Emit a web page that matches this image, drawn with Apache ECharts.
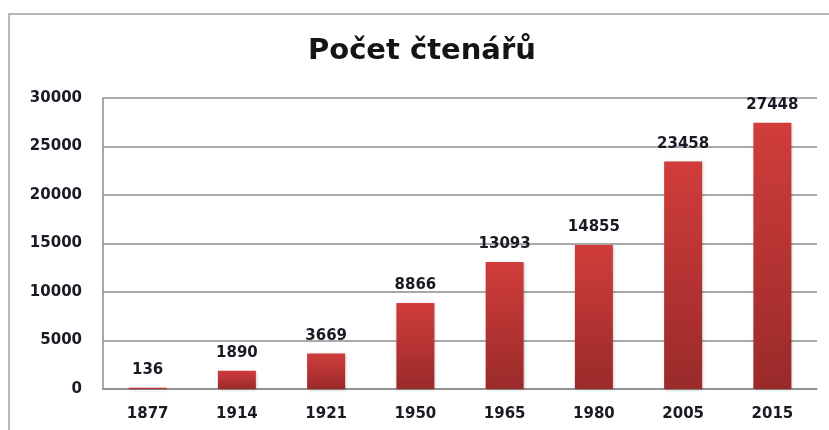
<!DOCTYPE html>
<html><head><meta charset="utf-8">
<script src="https://cdn.jsdelivr.net/npm/echarts@6/dist/echarts.min.js"></script>
<style>html,body{margin:0;padding:0;background:#fff}#c{width:829px;height:430px}</style>
</head><body><div id="c"></div>
<script>
const titleText = 'Počet čtenářů';
const categories = ['1877','1914','1921','1950','1965','1980','2005','2015'];
const values = [136,1890,3669,8866,13093,14855,23458,27448];
const yMin = 0, yMax = 30000, yStep = 5000;

const FONT = 'DejaVu Sans';
const chart = echarts.init(document.getElementById('c'), null, {renderer:'canvas'});
chart.setOption({
  animation:false,
  backgroundColor:'#fff',
  graphic:[{type:'rect',shape:{x:9,y:14,width:840,height:440},style:{fill:'none',stroke:'#a0a0a0',lineWidth:1.5},silent:true}],
  title:{text:titleText,left:303,top:32,padding:5,textStyle:{fontFamily:FONT,fontWeight:'bold',fontSize:29,color:'#141414'}},
  grid:{left:103,right:12,top:98,bottom:41},
  xAxis:{type:'category',data:categories,
    axisLine:{lineStyle:{color:'#8c8c8c',width:1.5}},axisTick:{show:false},
    axisLabel:{margin:18,fontFamily:FONT,fontWeight:'bold',fontSize:15,color:'#1a1a24'}},
  yAxis:{type:'value',min:yMin,max:yMax,interval:yStep,
    axisLine:{show:true,lineStyle:{color:'#8c8c8c',width:1.5}},axisTick:{show:false},
    splitLine:{lineStyle:{color:'#8c8c8c',width:1.5}},
    axisLabel:{margin:21,fontFamily:FONT,fontWeight:'bold',fontSize:15,color:'#1a1a24',formatter:v=>String(v)}},
  series:[{type:'bar',data:values,barWidth:38,
    itemStyle:{color:new echarts.graphic.LinearGradient(0,0,0,1,[{offset:0,color:'#d03d3b'},{offset:1,color:'#9a2a2a'}]),
      shadowColor:'rgba(0,0,0,0.25)',shadowBlur:3,shadowOffsetX:1,shadowOffsetY:1},
    label:{show:true,position:'top',distance:10,fontFamily:FONT,fontWeight:'bold',fontSize:15,color:'#1a1a24'}}]
});
</script></body></html>
